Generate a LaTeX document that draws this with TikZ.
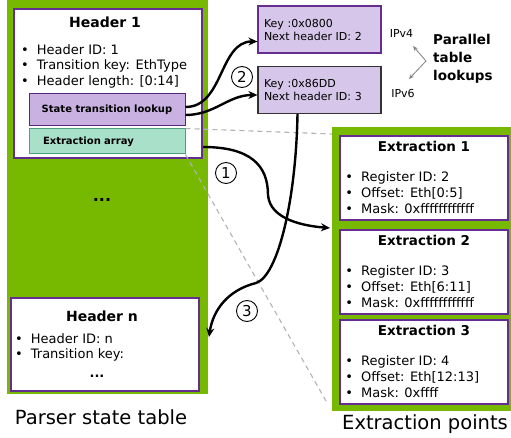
\documentclass[tikz,border=0pt]{standalone}
\usepackage{fontspec}
\setmainfont{DejaVu Sans}
\usetikzlibrary{arrows.meta,positioning}
\definecolor{nvgreen}{HTML}{76B900}
\definecolor{boxpurple}{HTML}{662D91}
\definecolor{lookupfill}{HTML}{C9B2E2}
\definecolor{keyfill}{HTML}{D6C6E9}
\definecolor{arrayfill}{HTML}{A9E0C9}
\definecolor{arrayline}{HTML}{4E9E82}
\newcommand\blt{\textbullet\hspace{8pt}}

\begin{document}
\begin{tikzpicture}
	[x=1pt, y=-1pt,
	every node/.style={inner sep=0pt, font=\fontsize{13}{15.5}\selectfont},
	panel/.style={fill=nvgreen, anchor=north west},
	entry/.style={draw=boxpurple, line width=1.6pt, fill=white},
	title/.style={font=\bfseries\fontsize{14}{16}\selectfont},
	items/.style={align=left, anchor=north west},
	keybox/.style={draw=boxpurple, line width=1.2pt, fill=keyfill, minimum width=123pt, minimum height=47pt,
		text width=111pt, inner xsep=6pt, align=left, font=\fontsize{11}{13}\selectfont},
	flow/.style={line width=2.4pt, -{Stealth[length=9pt,width=8pt]}},
	zoomline/.style={gray!60, dash pattern=on 5pt off 4pt, line width=1.1pt},
	stepnum/.style={circle, draw, line width=0.9pt, minimum size=21pt, font=\fontsize{15}{17}\selectfont},
	]
	\useasboundingbox (0,0) rectangle (511,438);

	% parser state table
	\node[panel, minimum width=201pt, minimum height=394pt] (pstpanel) at (7,0) {};
	\node[entry, minimum width=188pt, minimum height=149pt] (hdr1) at (108,83.5) {};
	\node[title] (hdr1title) at (105,22) {Header 1};
	\node[items] (hdr1items) at (21,44) {\blt Header ID: 1\\ \blt Transition key: EthType\\ \blt Header length: [0:14]};
	\node[draw=boxpurple!85!black, line width=1pt, fill=lookupfill, minimum width=156pt, minimum height=32pt,
		font=\bfseries\fontsize{10}{12}\selectfont] (stl) at (107,110) {State transition lookup};
	\node[draw=arrayline, line width=1pt, fill=arrayfill, minimum height=25pt, text width=128pt, inner xsep=14pt,
		align=left, font=\bfseries\fontsize{10}{12}\selectfont] (exarr) at (107,141.5) {Extraction array};
	\node[font=\bfseries\fontsize{16}{18}\selectfont] (moredots) at (102,200) {...};
	\node[entry, minimum width=188pt, minimum height=93pt] (hdrn) at (105,344.5) {};
	\node[title] (hdrntitle) at (102,316) {Header n};
	\node[items] (hdrnitems) at (15,333) {\blt Header ID: n\\ \blt Transition key:};
	\node[font=\bfseries\fontsize{13}{15}\selectfont] (hdrndots) at (97,376) {...};
	\node[font=\fontsize{19.5}{22}\selectfont] (psttext) at (101,417) {Parser state table};

	% extraction points
	\node[panel, minimum width=179pt, minimum height=284pt] (extpanel) at (332,127) {};
	\foreach \i/\yy/\reg/\off/\mask in {1/178/2/{Eth[0:5]}/0xffffffffffff,
			2/272/3/{Eth[6:11]}/0xffffffffffff, 3/362/4/{Eth[12:13]}/0xffff}{
		\node[entry, minimum width=168pt, minimum height=84pt] (ext\i) at (424,\yy) {};
		\node[title, font=\bfseries\fontsize{13.5}{16}\selectfont, below=6pt of ext\i.north] (exttitle\i) {Extraction \i};
		\node[items, font=\fontsize{13}{16}\selectfont] (extitems\i) at ([shift={(6pt,-36pt)}]ext\i.north west)
			{\blt Register ID: \reg\\ \blt Offset: \off\\ \blt Mask: \mask};
	}
	\node[font=\fontsize{19.5}{22}\selectfont] (exttext) at (425,424) {Extraction points};

	% lookup tables
	\node[keybox] (key1) at (319.5,29.5) {Key :0x0800\\Next header ID: 2};
	\node[keybox, draw=black!80] (key2) at (319.5,90) {Key :0x86DD\\Next header ID: 3};
	\node[font=\fontsize{11}{13}\selectfont] (ipv4) at (401.5,33) {IPv4};
	\node[font=\fontsize{11}{13}\selectfont] (ipv6) at (403,93) {IPv6};
	\node[align=left, anchor=west, font=\bfseries\fontsize{13.5}{18}\selectfont] (parallel) at (433,59) {Parallel\\table\\lookups};
	\coordinate (fork) at (426,61);
	\coordinate (v4tip) at (413,46);
	\coordinate (v6tip) at (409,79);
	\draw[gray, line width=0.8pt, {Stealth[length=5pt,width=4pt]}-{Stealth[length=5pt,width=4pt]}] (v4tip) -- (fork) -- (v6tip);

	\draw[zoomline] (exarr.north east) -- ([yshift=-7pt]extpanel.north west);
	\draw[zoomline, shorten >=10pt] (exarr.south east) -- (extpanel.south west);

	\coordinate (exout) at (203,147);
	\coordinate (ext1in) at (330,228);
	\coordinate (hdrnin) at (209,337);
	\draw[flow] ([yshift=3pt]stl.east) to[out=0,in=180] ([yshift=-12pt]key1.west);
	\draw[flow] ([yshift=-5pt]stl.east) to[out=0,in=180] ([yshift=-5pt]key2.west);
	\draw[flow] (exout) .. controls (250,147) and (268,165) .. (268,195) .. controls (270,220) and (305,226) .. (ext1in);
	\draw[flow] ([xshift=-22pt]key2.south) .. controls (296,200) and (278,276) .. (256,283)
		.. controls (228,290) and (213,310) .. (hdrnin);

	\node[stepnum] (n1) at (226,173) {1};
	\node[stepnum] (n2) at (242,77) {2};
	\node[stepnum] (n3) at (247,311) {3};
\end{tikzpicture}
\end{document}
